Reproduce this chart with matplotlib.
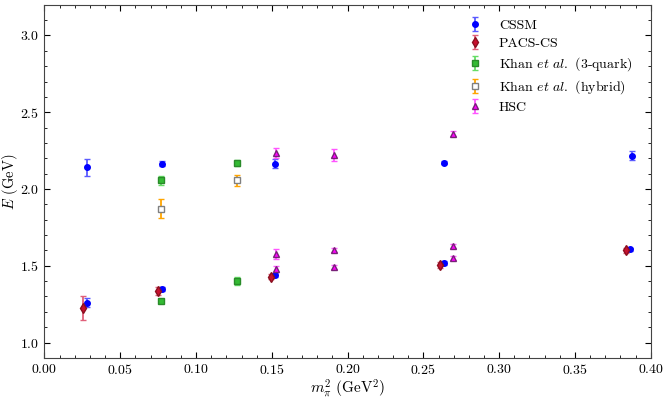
import matplotlib.pyplot as plt

plt.rcParams['font.family'] = 'serif'
plt.rcParams['font.serif'] = ['cmr10']
plt.rcParams['mathtext.fontset'] = 'cm'
plt.rcParams['axes.unicode_minus'] = False
plt.rcParams['axes.formatter.use_mathtext'] = True

# CSSM
cssm_x = [0.0282, 0.0777, 0.152, 0.2637, 0.3862, 0.0282, 0.0777, 0.152, 0.2637, 0.3875]
cssm_y = [1.259, 1.350, 1.442, 1.518, 1.607, 2.141, 2.166, 2.164, 2.172, 2.218]
cssm_e = [0.03, 0.015, 0.012, 0.01, 0.01, 0.054, 0.017, 0.03, 0.01, 0.03]

# PACS-CS
pacs_x = [0.0256, 0.0751, 0.1492, 0.2611, 0.3836]
pacs_y = [1.226, 1.335, 1.429, 1.505, 1.600]
pacs_e = [0.08, 0.027, 0.018, 0.018, 0.018]

# Khan et al. (3-quark)
k3_x = [0.0768, 0.0768, 0.1272, 0.1272]
k3_y = [1.268, 2.057, 1.398, 2.172]
k3_e = [0.01, 0.03, 0.026, 0.02]

# Khan et al. (hybrid)
kh_x = [0.0768, 0.1272]
kh_y = [1.872, 2.057]
kh_e = [0.062, 0.036]

# HSC
hsc_x = [0.1527, 0.1527, 0.1527, 0.1908, 0.1908, 0.1908, 0.2694, 0.2694, 0.2694]
hsc_y = [1.481, 1.579, 2.235, 1.492, 1.605, 2.222, 1.550, 1.628, 2.361]
hsc_e = [0.02, 0.033, 0.034, 0.012, 0.012, 0.039, 0.015, 0.015, 0.015]

fig = plt.figure(figsize=(6.64, 3.99), dpi=100)
ax = fig.add_axes([0.067, 0.103, 0.913, 0.885])

ax.errorbar(cssm_x, cssm_y, yerr=cssm_e, fmt='o', color='blue', ecolor='#5a5aff',
            ms=4, capsize=2, elinewidth=1.3, label='CSSM')
ax.errorbar(pacs_x, pacs_y, yerr=pacs_e, fmt='d', color='#c8102e', ecolor='#e0607a',
            ms=5, capsize=2, elinewidth=1.3, mec='#8a1020', label='PACS-CS')
ax.errorbar(k3_x, k3_y, yerr=k3_e, fmt='s', color='#33bb33', ecolor='#66dd66',
            ms=4, capsize=2, elinewidth=1.3, mec='#2a8a2a', label=r'Khan $et\ al.$ (3-quark)')
ax.errorbar(kh_x, kh_y, yerr=kh_e, fmt='s', color='orange', mfc='white', mec='grey',
            ecolor='orange', ms=4, capsize=2, elinewidth=1.3, label=r'Khan $et\ al.$ (hybrid)')
ax.errorbar(hsc_x, hsc_y, yerr=hsc_e, fmt='^', color='magenta', ecolor='#ff55ff',
            ms=5, capsize=2, elinewidth=1.3, mec='#772277', label='HSC')

ax.set_xlim(0.0, 0.40)
ax.set_ylim(0.9, 3.2)
ax.set_xticks([0.0, 0.05, 0.10, 0.15, 0.20, 0.25, 0.30, 0.35, 0.40])
ax.set_yticks([1.0, 1.5, 2.0, 2.5, 3.0])
ax.minorticks_on()
ax.tick_params(which='both', direction='in', top=True, right=True, labelsize=10)
ax.tick_params(which='major', length=4, pad=4)
ax.tick_params(which='minor', length=2)
for s in ax.spines.values():
    s.set_color('#444444')

ax.set_xlabel(r'$m_\pi^2$ (GeV$^2$)', fontsize=11, labelpad=0)
ax.set_ylabel(r'$E$ (GeV)', fontsize=10.5, labelpad=0)

ax.legend(loc='upper right', frameon=False, fontsize=10, bbox_to_anchor=(0.99, 0.995),
          handletextpad=0.9, labelspacing=0.38, handlelength=1.6)

fig.savefig('out.png', dpi=100)
